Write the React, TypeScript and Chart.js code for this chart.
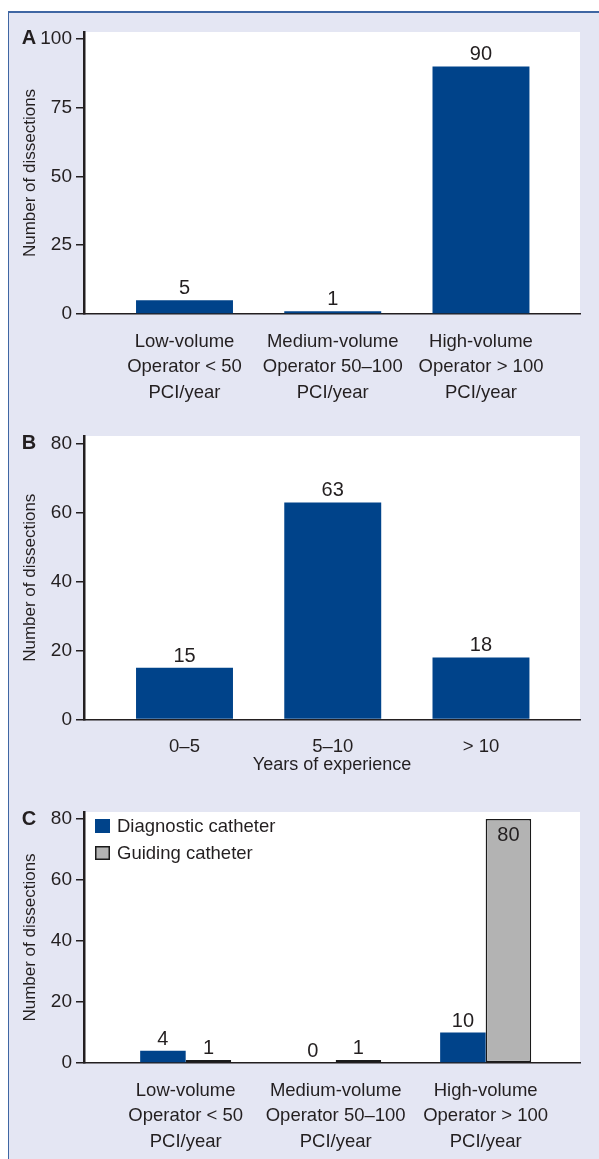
import React, { useEffect, useRef } from "react";
import { Chart, registerables } from "chart.js";

Chart.register(...registerables);

// ---------- data ----------
const volumeCategories: string[][] = [
  ["Low-volume", "Operator < 50", "PCI/year"],
  ["Medium-volume", "Operator 50–100", "PCI/year"],
  ["High-volume", "Operator > 100", "PCI/year"],
];
const experienceCategories: string[] = ["0–5", "5–10", "> 10"];

const dissectionsByVolume: number[] = [5, 1, 90];
const dissectionsByExperience: number[] = [15, 63, 18];
const diagnosticCatheter: number[] = [4, 0, 10];
const guidingCatheter: number[] = [1, 1, 80];

const yTicksA: number[] = [0, 25, 50, 75, 100];
const yTicksB: number[] = [0, 20, 40, 60, 80];
const yTicksC: number[] = [0, 20, 40, 60, 80];

const yAxisTitle = "Number of dissections";
const xAxisTitleB = "Years of experience";
const legendDiagnostic = "Diagnostic catheter";
const legendGuiding = "Guiding catheter";

// ---------- style ----------
const FONT = "'Liberation Sans', Arial, Helvetica, sans-serif";
const TEXT = "#231f20";
const AXIS = "#231f20";
const BLUE = "#00438a";
const GRAY = "#b3b3b3";
const BG = "#e4e6f3";
const FRAME = "#3f66a3";
const PAGE_W = 599;

const whiteArea = {
  id: "whiteArea",
  beforeDraw(chart: any) {
    const { ctx, chartArea } = chart;
    ctx.save();
    ctx.fillStyle = "#ffffff";
    ctx.fillRect(chartArea.left, chartArea.top, chartArea.right - chartArea.left, chartArea.bottom - chartArea.top);
    ctx.restore();
  },
};

const valueLabels = {
  id: "valueLabels",
  afterDatasetsDraw(chart: any) {
    const { ctx, chartArea } = chart;
    ctx.save();
    ctx.font = `20px ${FONT}`;
    ctx.fillStyle = TEXT;
    ctx.textAlign = "center";
    ctx.textBaseline = "alphabetic";
    chart.data.datasets.forEach((ds: any, di: number) => {
      const meta = chart.getDatasetMeta(di);
      meta.data.forEach((el: any, i: number) => {
        const v = ds.data[i].y;
        const { x, y } = el.getProps(["x", "y"], true);
        const above = y - 6 - 15;
        if (above < chartArea.top) {
          ctx.fillText(String(v), x, y + 22);
        } else {
          ctx.fillText(String(v), x, y - 6);
        }
      });
    });
    ctx.restore();
  },
};

const panelLetter = {
  id: "panelLetter",
  afterDraw(chart: any, _args: any, opts: any) {
    const { ctx } = chart;
    const yScale = chart.scales.y;
    const ticks = yScale.ticks;
    const top = ticks[ticks.length - 1].value;
    ctx.save();
    ctx.font = `bold 20px ${FONT}`;
    ctx.fillStyle = TEXT;
    ctx.textAlign = "center";
    ctx.textBaseline = "middle";
    ctx.fillText(opts.text, 29, yScale.getPixelForValue(top));
    ctx.restore();
  },
};

const insideLegend = {
  id: "insideLegend",
  afterDraw(chart: any, _args: any, opts: any) {
    if (!opts.show) return;
    const { ctx, chartArea } = chart;
    ctx.save();
    ctx.font = `18.5px ${FONT}`;
    ctx.textAlign = "left";
    ctx.textBaseline = "middle";
    chart.data.datasets.forEach((ds: any, i: number) => {
      const bx = chartArea.left + 11;
      const by = chartArea.top + 7 + i * 27;
      ctx.fillStyle = ds.backgroundColor;
      ctx.fillRect(bx, by, 15, 14);
      if (ds.borderWidth) {
        ctx.lineWidth = ds.borderWidth;
        ctx.strokeStyle = ds.borderColor;
        const h = ds.borderWidth / 2;
        ctx.strokeRect(bx + h, by + h, 15 - ds.borderWidth, 14 - ds.borderWidth);
      }
      ctx.fillStyle = TEXT;
      ctx.fillText(ds.label, bx + 22, by + 7.5);
    });
    ctx.restore();
  },
};

type Spec = {
  letter: string;
  canvasTop: number;
  canvasHeight: number;
  area: { top: number; bottom: number; left: number; right: number };
  yMax: number;
  yTicks: number[];
  xMin: number;
  xMax: number;
  categories: (string | string[])[];
  datasets: any[];
  catPct: number;
  xTitle?: string;
  xTitlePad?: number;
  legend?: boolean;
};

function Panel({ spec }: { spec: Spec }) {
  const ref = useRef<HTMLCanvasElement | null>(null);
  useEffect(() => {
    if (!ref.current) return;
    const s = spec;
    const chart = new Chart(ref.current, {
      type: "bar",
      data: { datasets: s.datasets },
      options: {
        responsive: false,
        animation: false,
        events: [],
        layout: {
          padding: { top: s.area.top - s.canvasTop, right: PAGE_W - s.area.right, left: 0, bottom: 0 },
        },
        datasets: { bar: { categoryPercentage: s.catPct, barPercentage: 1 } },
        plugins: {
          legend: { display: false },
          tooltip: { enabled: false },
          title: { display: false },
          panelLetter: { text: s.letter },
          insideLegend: { show: !!s.legend },
        } as any,
        scales: {
          x: {
            type: "linear",
            min: s.xMin,
            max: s.xMax,
            offset: false,
            afterBuildTicks: (ax: any) => {
              ax.ticks = s.categories.map((_c, i) => ({ value: i }));
            },
            afterFit: (ax: any) => {
              ax.height = s.canvasTop + s.canvasHeight - s.area.bottom;
            },
            grid: { display: false },
            border: { display: true, color: AXIS, width: 1.5 },
            ticks: {
              autoSkip: false,
              maxRotation: 0,
              minRotation: 0,
              padding: 7,
              color: TEXT,
              font: { family: FONT, size: 18.5, lineHeight: 1.384 },
              callback: (v: any) => s.categories[Math.round(Number(v))] as any,
            },
            title: s.xTitle
              ? {
                  display: true,
                  text: s.xTitle,
                  color: TEXT,
                  font: { family: FONT, size: 18 },
                  padding: { top: 0, bottom: s.xTitlePad ?? 14 },
                }
              : { display: false },
          },
          y: {
            type: "linear",
            min: 0,
            max: s.yMax,
            afterBuildTicks: (ax: any) => {
              ax.ticks = s.yTicks.map((v) => ({ value: v }));
            },
            afterFit: (ax: any) => {
              ax.width = s.area.left;
            },
            grid: {
              display: true,
              drawOnChartArea: false,
              drawTicks: true,
              tickLength: 8,
              tickColor: AXIS,
              tickWidth: 1.5,
              lineWidth: 1.5,
            },
            border: { display: true, color: AXIS, width: 2.5 },
            ticks: {
              padding: 4,
              color: TEXT,
              font: { family: FONT, size: 19 },
              callback: (v: any) => String(v),
            },
            title: {
              display: true,
              text: yAxisTitle,
              color: TEXT,
              font: { family: FONT, size: 17 },
              padding: { top: 20, bottom: 0 },
            },
          },
        } as any,
      },
      plugins: [whiteArea, valueLabels, panelLetter, insideLegend],
    } as any);
    return () => chart.destroy();
  }, [spec]);
  return (
    <canvas
      ref={ref}
      width={PAGE_W}
      height={spec.canvasHeight}
      style={{ position: "absolute", left: 0, top: spec.canvasTop, width: PAGE_W, height: spec.canvasHeight }}
    />
  );
}

const toPoints = (vals: number[]) => vals.map((v, i) => ({ x: i, y: v }));

const specA: Spec = {
  letter: "A",
  canvasTop: 13,
  canvasHeight: 400,
  area: { top: 32, bottom: 314, left: 84, right: 580 },
  yMax: 102.5,
  yTicks: yTicksA,
  xMin: -0.678,
  xMax: 2.668,
  categories: volumeCategories,
  catPct: 0.654,
  datasets: [{ label: "Dissections", data: toPoints(dissectionsByVolume), backgroundColor: BLUE, borderWidth: 0 }],
};

const specB: Spec = {
  letter: "B",
  canvasTop: 413,
  canvasHeight: 377,
  area: { top: 436, bottom: 719.5, left: 84, right: 580 },
  yMax: 82.3,
  yTicks: yTicksB,
  xMin: -0.678,
  xMax: 2.668,
  categories: experienceCategories,
  catPct: 0.654,
  xTitle: xAxisTitleB,
  xTitlePad: 14,
  datasets: [{ label: "Dissections", data: toPoints(dissectionsByExperience), backgroundColor: BLUE, borderWidth: 0 }],
};

const specC: Spec = {
  letter: "C",
  canvasTop: 790,
  canvasHeight: 369,
  area: { top: 812, bottom: 1063, left: 84, right: 580 },
  yMax: 82.3,
  yTicks: yTicksC,
  xMin: -0.678,
  xMax: 2.629,
  categories: volumeCategories,
  catPct: 0.607,
  legend: true,
  datasets: [
    { label: legendDiagnostic, data: toPoints(diagnosticCatheter), backgroundColor: BLUE, borderWidth: 0 },
    {
      label: legendGuiding,
      data: toPoints(guidingCatheter),
      backgroundColor: GRAY,
      borderColor: "#1a1a1a",
      borderWidth: 1.5,
      borderSkipped: false,
    },
  ],
};

export default function App() {
  return (
    <div style={{ position: "absolute", left: 0, top: 0, width: PAGE_W, height: 1159, overflow: "hidden" }}>
      <div
        style={{
          position: "absolute",
          left: 8,
          top: 11,
          right: 0,
          bottom: 0,
          background: BG,
          borderTop: `2px solid ${FRAME}`,
          borderLeft: `1px solid ${FRAME}`,
        }}
      />
      <Panel spec={specA} />
      <Panel spec={specB} />
      <Panel spec={specC} />
    </div>
  );
}
